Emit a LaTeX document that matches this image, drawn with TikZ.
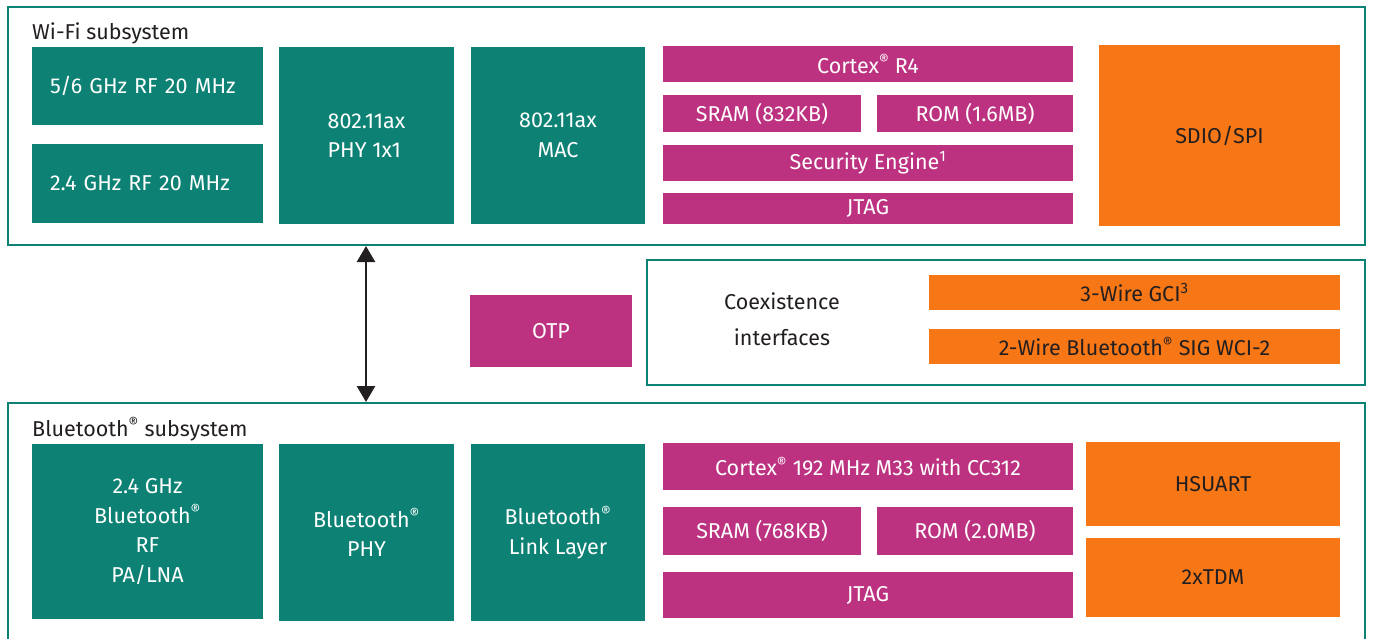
\documentclass[tikz,border=0pt]{standalone}
\usepackage{fontspec}
\setmainfont{Fira Sans}
\usetikzlibrary{arrows.meta}

\definecolor{wteal}{HTML}{0D8274}
\definecolor{wmag}{HTML}{BC3281}
\definecolor{worange}{HTML}{F77717}
\definecolor{wink}{HTML}{231F20}
\newcommand{\reg}{\textsuperscript{\textregistered}}

\begin{document}
\begin{tikzpicture}[x=1pt, y=-1pt,
  every node/.style={font=\fontsize{21.5}{29.5}\selectfont},
  blk/.style={rectangle, inner sep=0pt, outer sep=0pt, anchor=north west, align=center},
  rfbox/.style={blk, fill=wteal, text=white},
  cpubox/.style={blk, fill=wmag, text=white},
  iobox/.style={blk, fill=worange, text=wink},
  frame/.style={blk, draw=wteal, line width=2.5pt},
  lbl/.style={anchor=base west, inner sep=0pt, text=wink}]

  \clip (0,0) rectangle (1373,638);

  % subsystem frames
  \node[frame, minimum width=1357pt, minimum height=238pt] (wifi) at (8,7) {};
  \node[frame, minimum width=718pt, minimum height=125pt] (coex) at (647,260) {};
  \node[frame, minimum width=1357pt, minimum height=257pt] (bt) at (8,403) {};

  \node[lbl] (wifilbl) at (32,39) {Wi-Fi subsystem};
  \node[lbl] (btlbl) at (32,436) {Bluetooth\reg{} subsystem};

  % Wi-Fi blocks
  \node[rfbox, minimum width=231pt, minimum height=78pt, text width=195pt, align=left] (rf56) at (32,47) {5/6 GHz RF 20 MHz};
  \node[rfbox, minimum width=231pt, minimum height=79pt, text width=195pt, align=left] (rf24) at (32,144) {2.4 GHz RF 20 MHz};
  \node[rfbox, minimum width=175pt, minimum height=177pt, align=left] (wphy) at (279,47) {802.11ax\\PHY 1x1};
  \node[rfbox, minimum width=174pt, minimum height=177pt] (wmac) at (471,47) {802.11ax\\MAC};
  \node[cpubox, minimum width=410pt, minimum height=36pt] (r4) at (663,46) {Cortex\reg{} R4};
  \node[cpubox, minimum width=198pt, minimum height=37pt] (wsram) at (663,95) {SRAM (832KB)};
  \node[cpubox, minimum width=196pt, minimum height=37pt] (wrom) at (877,95) {ROM (1.6MB)};
  \node[cpubox, minimum width=410pt, minimum height=36pt] (sec) at (663,145) {Security Engine\textsuperscript{1}};
  \node[cpubox, minimum width=410pt, minimum height=31pt] (wjtag) at (663,193) {JTAG};
  \node[iobox, minimum width=241pt, minimum height=181pt] (sdio) at (1099,45) {SDIO/SPI};

  % middle row
  \node[font=\fontsize{21.5}{36}\selectfont, text=wink, align=center] (coextxt) at (782,319) {Coexistence\\interfaces};
  \node[cpubox, minimum width=162pt, minimum height=72pt] (otp) at (470,295) {OTP};
  \node[iobox, minimum width=411pt, minimum height=35pt] (gci) at (929,275) {3-Wire GCI\textsuperscript{3}};
  \node[iobox, minimum width=411pt, minimum height=35pt] (wci) at (929,329) {2-Wire Bluetooth\reg{} SIG WCI-2};

  % Bluetooth blocks
  \node[rfbox, minimum width=231pt, minimum height=175pt] (btrf) at (32,444) {2.4 GHz\\Bluetooth\reg\\RF\\PA/LNA};
  \node[rfbox, minimum width=175pt, minimum height=177pt] (btphy) at (279,444) {Bluetooth\reg\\PHY};
  \node[rfbox, minimum width=174pt, minimum height=177pt] (btll) at (471,444) {Bluetooth\reg\\Link Layer};
  \node[cpubox, minimum width=410pt, minimum height=47pt] (m33) at (663,443) {Cortex\reg{} 192 MHz M33 with CC312};
  \node[cpubox, minimum width=198pt, minimum height=48pt] (bsram) at (663,507) {SRAM (768KB)};
  \node[cpubox, minimum width=196pt, minimum height=48pt] (brom) at (877,507) {ROM (2.0MB)};
  \node[cpubox, minimum width=410pt, minimum height=46pt] (bjtag) at (663,572) {JTAG};
  \node[iobox, minimum width=254pt, minimum height=84pt] (hsuart) at (1086,442) {HSUART};
  \node[iobox, minimum width=254pt, minimum height=79pt] (tdm) at (1086,538) {2xTDM};

  % link between subsystems
  \coordinate (wifiarr) at (366,246);
  \coordinate (btarr) at (366,402);
  \draw[wink, line width=2.5pt, {Triangle[width=18pt,length=16pt]}-{Triangle[width=18pt,length=16pt]}] (wifiarr) -- (btarr);
\end{tikzpicture}
\end{document}
